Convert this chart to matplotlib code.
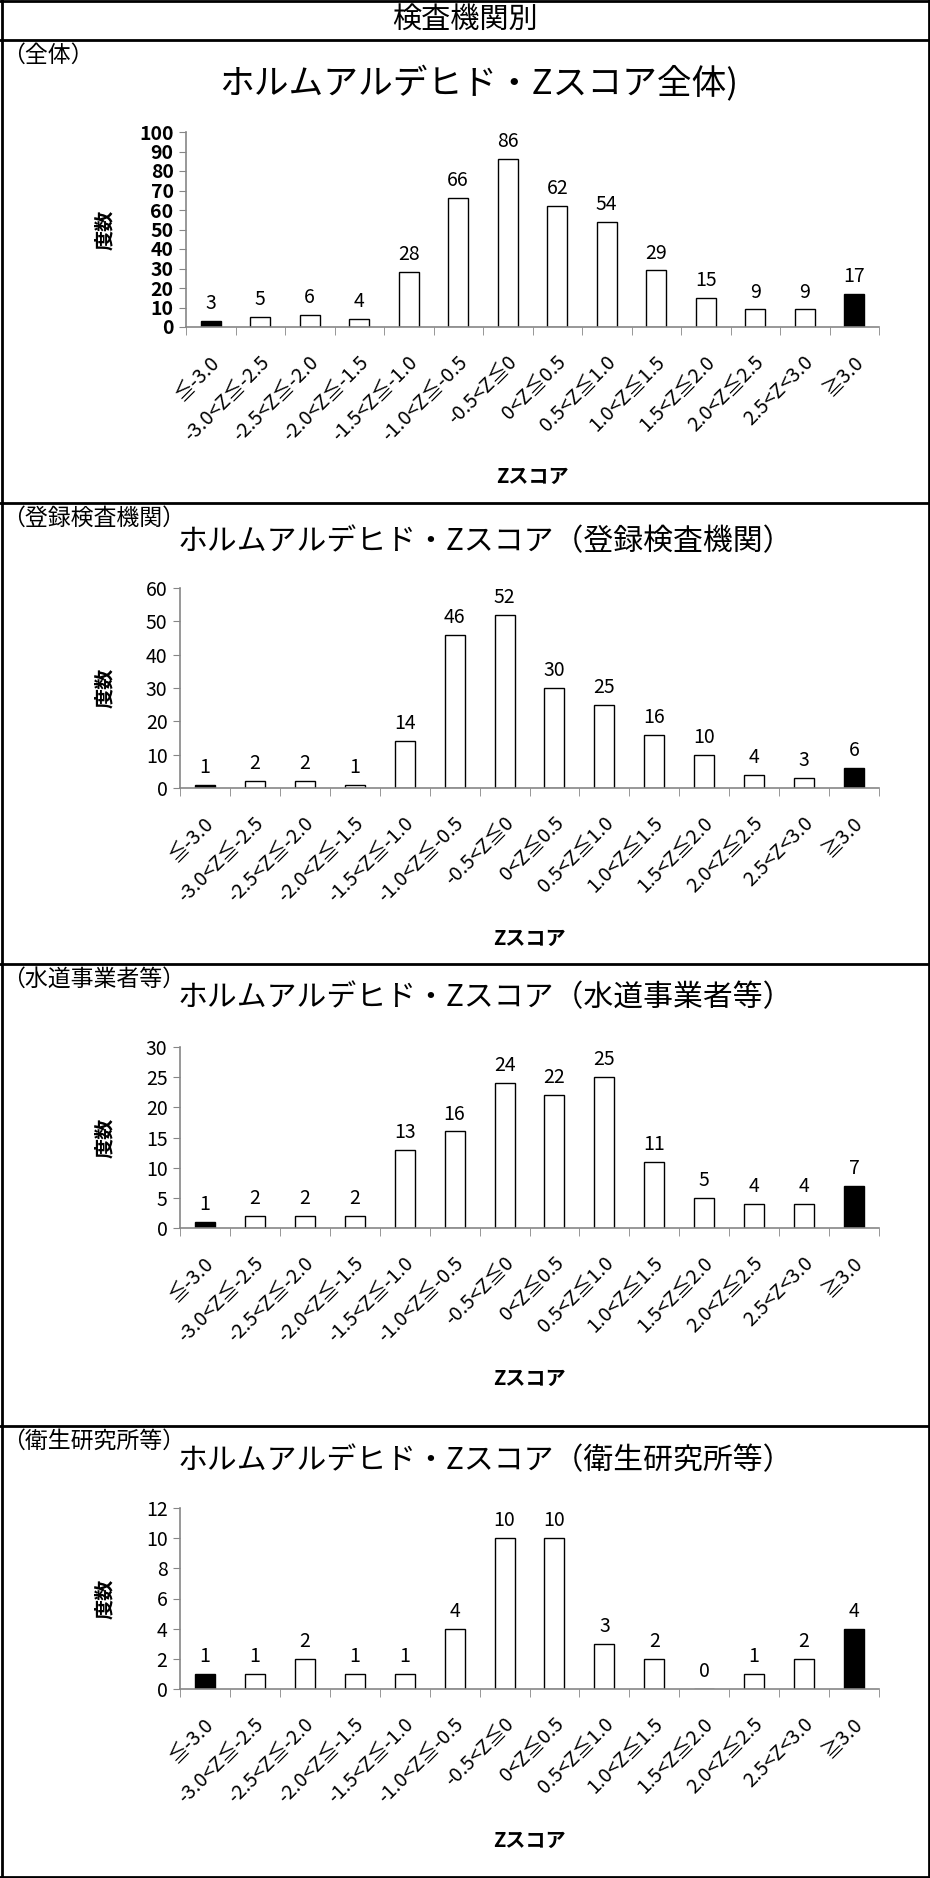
import matplotlib
matplotlib.use("Agg")
import matplotlib.pyplot as plt
import matplotlib.transforms as mtransforms
from matplotlib.lines import Line2D
import numpy as np

plt.rcParams["font.family"] = ["Noto Sans CJK JP", "DejaVu Sans"]

W, H = 930, 1878

categories = [
    "≦-3.0", "-3.0<Z≦-2.5", "-2.5<Z≦-2.0", "-2.0<Z≦-1.5", "-1.5<Z≦-1.0",
    "-1.0<Z≦-0.5", "-0.5<Z≦0", "0<Z≦0.5", "0.5<Z≦1.0", "1.0<Z≦1.5",
    "1.5<Z≦2.0", "2.0<Z≦2.5", "2.5<Z<3.0", "≧3.0",
]

counts_all = [3, 5, 6, 4, 28, 66, 86, 62, 54, 29, 15, 9, 9, 17]
counts_registered = [1, 2, 2, 1, 14, 46, 52, 30, 25, 16, 10, 4, 3, 6]
counts_water = [1, 2, 2, 2, 13, 16, 24, 22, 25, 11, 5, 4, 4, 7]
counts_health = [1, 1, 2, 1, 1, 4, 10, 10, 3, 2, 0, 1, 2, 4]

header = "検査機関別"
panel_tags = ["（全体）", "（登録検査機関）", "（水道事業者等）", "（衛生研究所等）"]
panel_titles = [
    "ホルムアルデヒド・Zスコア全体)",
    "ホルムアルデヒド・Zスコア（登録検査機関）",
    "ホルムアルデヒド・Zスコア（水道事業者等）",
    "ホルムアルデヒド・Zスコア（衛生研究所等）",
]
y_maxes = [100, 60, 30, 12]
y_steps = [10, 10, 5, 2]

# layout in pixels: (left, top, right, bottom) of plot area
panels = [
    dict(data=counts_all, box=(186, 132, 879, 327), sep=40, title_y=84, title_x=479,
         title_size=25, xlab_y=476, bold_ticks=True),
    dict(data=counts_registered, box=(180, 588, 879, 788), sep=503, title_y=542, title_x=485,
         title_size=21.5, xlab_y=938, bold_ticks=False),
    dict(data=counts_water, box=(180, 1047, 879, 1228), sep=964, title_y=998, title_x=485,
         title_size=21.5, xlab_y=1378, bold_ticks=False),
    dict(data=counts_health, box=(180, 1508, 879, 1689), sep=1426, title_y=1461, title_x=485,
         title_size=21.5, xlab_y=1840, bold_ticks=False),
]

fig = plt.figure(figsize=(W / 100, H / 100), dpi=100)


def fx(px):
    return px / W


def fy(py):
    return 1 - py / H


gray = "#868686"
x = np.arange(len(categories))

for i, p in enumerate(panels):
    l, t, r, b = p["box"]
    ax = fig.add_axes([fx(l), fy(b), (r - l) / W, (b - t) / H])
    vals = p["data"]
    colors = ["black" if (k == 0 or k == len(vals) - 1) else "white" for k in range(len(vals))]
    bars = ax.bar(x, vals, width=0.4, color=colors, edgecolor="black", linewidth=1.0)
    ax.bar_label(bars, labels=[str(v) for v in vals], padding=5, fontsize=14)

    ax.set_xlim(-0.5, len(categories) - 0.5)
    ax.set_ylim(0, y_maxes[i])
    ax.set_yticks(np.arange(0, y_maxes[i] + 1, y_steps[i]))
    for side in ["top", "right"]:
        ax.spines[side].set_visible(False)
    for side in ["left", "bottom"]:
        ax.spines[side].set_color(gray)
        ax.spines[side].set_linewidth(1.2)
    ax.tick_params(axis="y", direction="out", length=5, color=gray, labelsize=14, pad=4)
    if p["bold_ticks"]:
        for lbl in ax.get_yticklabels():
            lbl.set_fontweight("bold")

    # category boundaries get the ticks, centres get the labels
    ax.set_xticks(np.arange(-0.5, len(categories), 1), minor=True)
    ax.tick_params(axis="x", which="minor", direction="out", length=6, color=gray)
    ax.set_xticks(x, categories, rotation=45, ha="right", va="center", rotation_mode="anchor")
    ax.tick_params(axis="x", which="major", length=0, labelsize=14.3, pad=23)
    offset = mtransforms.ScaledTranslation(6 / 100, 0, fig.dpi_scale_trans)
    for lbl in ax.get_xticklabels():
        lbl.set_transform(lbl.get_transform() + offset)

    fig.text(fx(105), fy((t + b) / 2), "度数", rotation=90, ha="center", va="center",
             fontsize=14.5, fontweight="bold")
    fig.text(fx((l + r) / 2), fy(p["xlab_y"]), "Zスコア", ha="center", va="center",
             fontsize=14.5, fontweight="bold")

    fig.text(fx(2), fy(p["sep"] + 15), panel_tags[i], ha="left", va="center", fontsize=16.5)
    fig.text(fx(p["title_x"]), fy(p["title_y"]), panel_titles[i], ha="center", va="center",
             fontsize=p["title_size"])

    # separator line above panel
    fig.add_artist(Line2D([0, 1], [fy(p["sep"]), fy(p["sep"])], color="black", linewidth=2.0))

fig.text(fx(465), fy(20), header, ha="center", va="center", fontsize=21)

# outer border
fig.add_artist(Line2D([fx(1.5), fx(1.5)], [0, 1], color="black", linewidth=2.0))
fig.add_artist(Line2D([fx(928.5), fx(928.5)], [0, 1], color="black", linewidth=2.0))
fig.add_artist(Line2D([0, 1], [fy(1), fy(1)], color="black", linewidth=2.0))
fig.add_artist(Line2D([0, 1], [fy(1877), fy(1877)], color="black", linewidth=2.0))

fig.savefig("out.png", dpi=100)
